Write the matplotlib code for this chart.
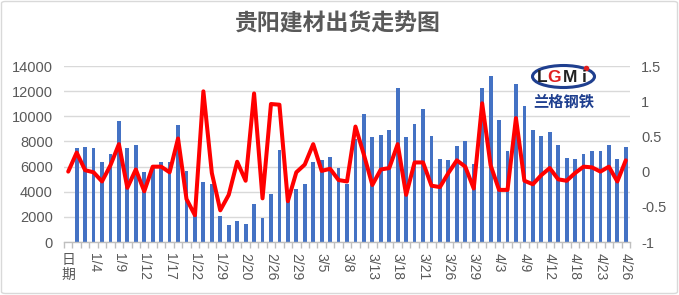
import numpy as np
import matplotlib
matplotlib.use("Agg")
import matplotlib.pyplot as plt
from matplotlib.patches import Ellipse, FancyBboxPatch
from matplotlib.ticker import FuncFormatter

plt.rcParams['font.family'] = ['Liberation Sans', 'Noto Sans CJK SC', 'DejaVu Sans']

title = "贵阳建材出货走势图"
tick_labels = ["日期", "1/4", "1/9", "1/12", "1/17", "1/22", "1/29", "2/20", "2/26", "2/29",
               "3/5", "3/8", "3/13", "3/18", "3/21", "3/26", "3/29", "4/3", "4/9", "4/12",
               "4/18", "4/23", "4/26"]

# shipments (left axis), categories 1..66 (category 0 is the header "日期" with no bar)
shipments = [7500, 7560, 7480, 6370, 7000, 9630, 7480, 7720, 5570, 5900,
             6370, 6370, 9310, 5650, 2300, 4780, 4620, 2070, 1350, 1670,
             1430, 3020, 1910, 3820, 7320, 3400, 4220, 4620, 6370, 6530,
             6770, 5890, 4600, 8200, 10190, 8360, 8520, 8910, 12260, 8360,
             9390, 10590, 8440, 6610, 6530, 7640, 8040, 6210, 12260, 13210,
             9710, 7240, 12580, 10820, 8910, 8440, 8750, 7720, 6690, 6610,
             7000, 7240, 7240, 7720, 6610, 7560]

# change ratio (right axis), categories 0..66
change = [0.00, 0.27, 0.02, -0.01, -0.14, 0.09, 0.39, -0.23, 0.03, -0.28,
          0.07, 0.07, -0.01, 0.47, -0.39, -0.62, 1.14, -0.02, -0.55, -0.33,
          0.14, -0.13, 1.11, -0.38, 0.96, 0.95, -0.42, -0.01, 0.10, 0.39,
          0.01, 0.04, -0.12, -0.14, 0.64, 0.24, -0.19, 0.03, 0.05, 0.39,
          -0.33, 0.13, 0.13, -0.20, -0.22, -0.02, 0.16, 0.07, -0.24, 0.97,
          0.09, -0.26, -0.26, 0.76, -0.13, -0.18, -0.05, 0.05, -0.11, -0.13,
          -0.02, 0.07, 0.06, 0.00, 0.07, -0.14, 0.16]

W, H = 679, 295
fig = plt.figure(figsize=(W / 100, H / 100), dpi=100)

ax = fig.add_axes([64 / W, 53 / H, 566 / W, 176 / H])
n = len(change)
x = np.arange(n)
ax.bar(x[1:], shipments, width=0.45, color='#4472C4', zorder=2)
ax.set_xlim(-0.5, n - 0.5)
ax.set_ylim(0, 14000)
ax.set_yticks(np.arange(0, 14001, 2000))
ax.yaxis.grid(True, color='#d9d9d9', lw=1)
ax.set_axisbelow(True)
for s in ['top', 'left', 'right']:
    ax.spines[s].set_visible(False)
ax.spines['bottom'].set_color('#bfbfbf')
ax.spines['bottom'].set_linewidth(1)
ax.tick_params(axis='y', length=0, pad=8, labelsize=10.5, labelcolor='#595959')

# CJK labels are stacked upright (one character per line), others rotated
shown_labels = ["\n".join(t) if not t[0].isdigit() else t for t in tick_labels]
ax.set_xticks(x[::3])
ax.set_xticklabels(shown_labels, rotation=-90, va='top', ha='center')
ax.set_xticks(np.arange(-0.5, n, 1), minor=True)
ax.tick_params(axis='x', which='major', length=0, pad=8, labelsize=10, labelcolor='#595959')
ax.tick_params(axis='x', which='minor', length=4, color='#bfbfbf', width=1)
for lbl, t in zip(ax.get_xticklabels(), tick_labels):
    if not t[0].isdigit():
        lbl.set_rotation(0)
        lbl.set_linespacing(1.05)

ax2 = ax.twinx()
ax2.plot(x, change, color='#FF0000', lw=2.9, solid_joinstyle='round', solid_capstyle='round', zorder=3)
ax2.set_ylim(-1, 1.5)
ax2.set_yticks([-1, -0.5, 0, 0.5, 1, 1.5])
ax2.yaxis.set_major_formatter(FuncFormatter(lambda v, p: f"{v:g}"))
for s in ['top', 'left', 'right', 'bottom']:
    ax2.spines[s].set_visible(False)
ax2.tick_params(axis='y', length=0, pad=8, labelsize=10.5, labelcolor='#595959')

fig.text(338 / W, 1 - 24 / H, title, ha='center', va='center', fontsize=16.5,
         fontweight='bold', color='#595959', family=['Noto Sans CJK SC', 'DejaVu Sans'])

# logo
lax = fig.add_axes([530 / W, 1 - 112 / H, 68 / W, 50 / H])
lax.set_xlim(530, 598)
lax.set_ylim(112, 62)
lax.axis('off')
lax.add_patch(Ellipse((563.5, 76.5), 62, 22, fc='white', ec='#1f3f8f', lw=2.2))
for ch, cx, col in [("L", 542, '#222222'), ("G", 554, '#e02020'), ("M", 570, '#222222'), ("i", 584, '#222222')]:
    lax.text(cx, 77, ch, ha='center', va='center', fontsize=12.5, fontweight='bold',
             color=col, family='Liberation Sans')
lax.plot([585.5], [68], 'o', color='#e02020', ms=3)
lax.text(563.5, 101.5, "兰格钢铁", ha='center', va='center', fontsize=11, fontweight='bold',
         color='#1f3f8f', family=['Noto Sans CJK SC'])

fig.add_artist(FancyBboxPatch((1.5 / W, 1.5 / H), 1 - 3 / W, 1 - 3 / H,
                              boxstyle='round,pad=0,rounding_size=0.006',
                              transform=fig.transFigure, fc='none', ec='#d9d9d9', lw=1))

fig.savefig("out.png", dpi=100)
